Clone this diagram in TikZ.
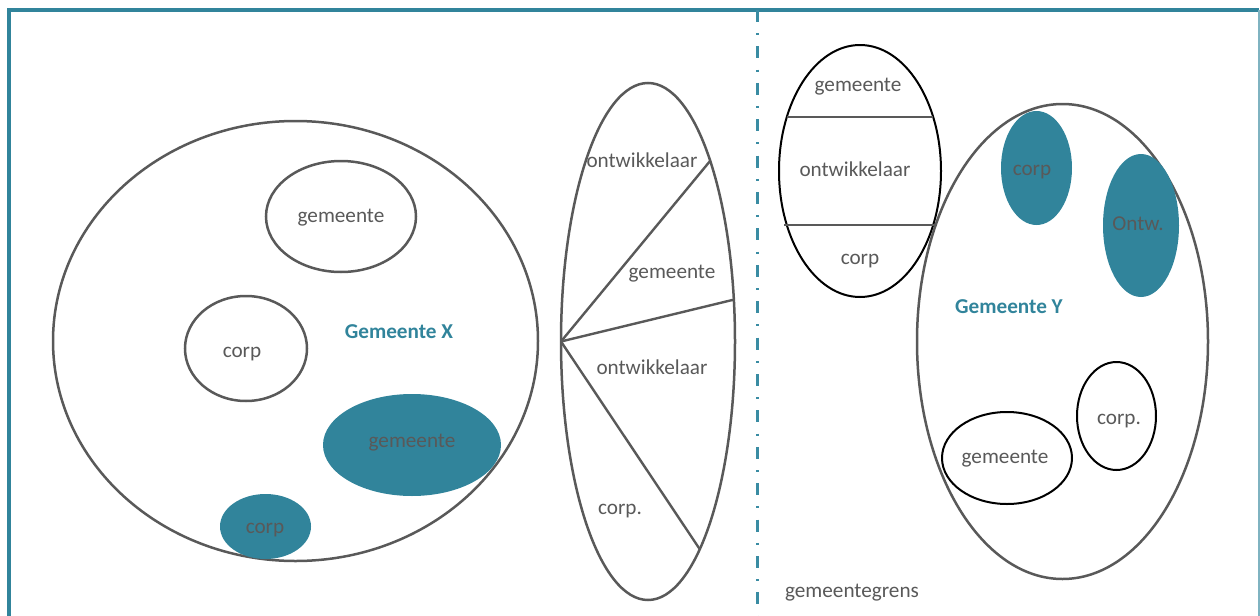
\documentclass[tikz,border=0pt]{standalone}
\usepackage{fontspec}
\setmainfont{Carlito}
\usetikzlibrary{shapes.geometric}
\definecolor{teal}{HTML}{31849B}
\definecolor{tealline}{HTML}{3A8CA3}
\definecolor{teallight}{HTML}{7FB3C1}
\definecolor{txtgray}{HTML}{595959}
\definecolor{edgegray}{HTML}{595959}
\tikzset{
  blob/.style={ellipse, inner sep=0pt, outer sep=0pt},
  grayring/.style={blob, draw=edgegray, line width=1.25pt},
  blackring/.style={blob, draw=black, line width=1pt},
  tealblob/.style={blob, fill=teal},
  lbl/.style={text=txtgray, inner sep=0pt, anchor=base},
  title/.style={text=teal, font=\fontsize{10.6}{12}\bfseries, inner sep=0pt, anchor=base},
  divider/.style={draw=edgegray, line width=1.2pt},
}
\begin{document}
\begin{tikzpicture}[x=0.5pt, y=-0.5pt, font=\fontsize{10.6}{12}\selectfont]
\useasboundingbox (0,0) rectangle (1260,616);

% frame
\draw[teal, line width=2pt] (9,616) -- (9,10) -- (1259,10);
\draw[teallight, line width=0.8pt] (1259,10) -- (1259,616);

% municipality X
\node[grayring, minimum width=242.5pt, minimum height=220pt] (gx) at (295.5,341) {};
\node[grayring, minimum width=75pt, minimum height=55.5pt] (gxgem) at (341,216.5) {};
\node[lbl] (gxgemt) at (341,222) {gemeente};
\node[grayring, minimum width=61pt, minimum height=52.5pt] (gxcorp) at (246,348.5) {};
\node[lbl] (gxcorpt) at (242,357) {corp};
\node[title] (gxt) at (399,338) {Gemeente X};
\node[tealblob, minimum width=89pt, minimum height=51pt] (gxgem2) at (412,445) {};
\node[lbl] (gxgem2t) at (412,447) {gemeente};
\node[tealblob, minimum width=45.5pt, minimum height=32.5pt] (gxcorp2) at (265.5,526.5) {};
\node[lbl] (gxcorp2t) at (265,533) {corp};

% shared ellipse split into sectors
\node[grayring, minimum width=87pt, minimum height=258.5pt] (tall) at (648,341.5) {};
\coordinate (hub) at (tall.west);
\draw[divider] (hub) -- (tall.71.1);
\draw[divider] (hub) -- (tall.26);
\draw[divider] (hub) -- (tall.-76.7);
\node[lbl] (s1) at (642,167) {ontwikkelaar};
\node[lbl] (s2) at (672,278) {gemeente};
\node[lbl] (s3) at (652,374) {ontwikkelaar};
\node[lbl] (s4) at (620,514) {corp.};

% boundary
\coordinate (bt) at (757,10);
\coordinate (bb) at (757,616);
\draw[tealline, line width=1.5pt, dash pattern=on 6pt off 5.6pt on 1pt off 5.6pt] (bt) -- (bb);
\node[lbl] (grens) at (852,597) {gemeentegrens};

% stacked ellipse with two horizontal chords
\node[blackring, minimum width=81pt, minimum height=126pt] (tr) at (860,171) {};
\path (tr.center) ++(-73,-54) coordinate (c1l) (tr.center) ++(73,-54) coordinate (c1r)
      (tr.center) ++(-76,54) coordinate (c2l) (tr.center) ++(76,54) coordinate (c2r);
\draw[divider] (c1l) -- (c1r);
\draw[divider] (c2l) -- (c2r);
\node[lbl] (t1) at (858,91) {gemeente};
\node[lbl] (t2) at (855,176) {ontwikkelaar};
\node[lbl] (t3) at (860,264) {corp};

% municipality Y
\node[grayring, minimum width=145.5pt, minimum height=237.5pt] (gy) at (1062.5,341.5) {};
\node[title] (gyt) at (1009,313) {Gemeente Y};
\node[tealblob, minimum width=35.5pt, minimum height=57pt] (gycorp) at (1036.5,168) {};
\node[lbl] (gycorpt) at (1032,175) {corp};
\node[tealblob, minimum width=38pt, minimum height=71.5pt] (gyontw) at (1141,225.5) {};
\node[lbl] (gyontwt) at (1138,230) {Ontw.};
\node[blackring, minimum width=39.5pt, minimum height=54pt] (gycorp2) at (1116.5,416) {};
\node[lbl] (gycorp2t) at (1119,424) {corp.};
\node[blackring, minimum width=65pt, minimum height=46pt] (gygem) at (1007,458) {};
\node[lbl] (gygemt) at (1005,463) {gemeente};
\end{tikzpicture}
\end{document}
